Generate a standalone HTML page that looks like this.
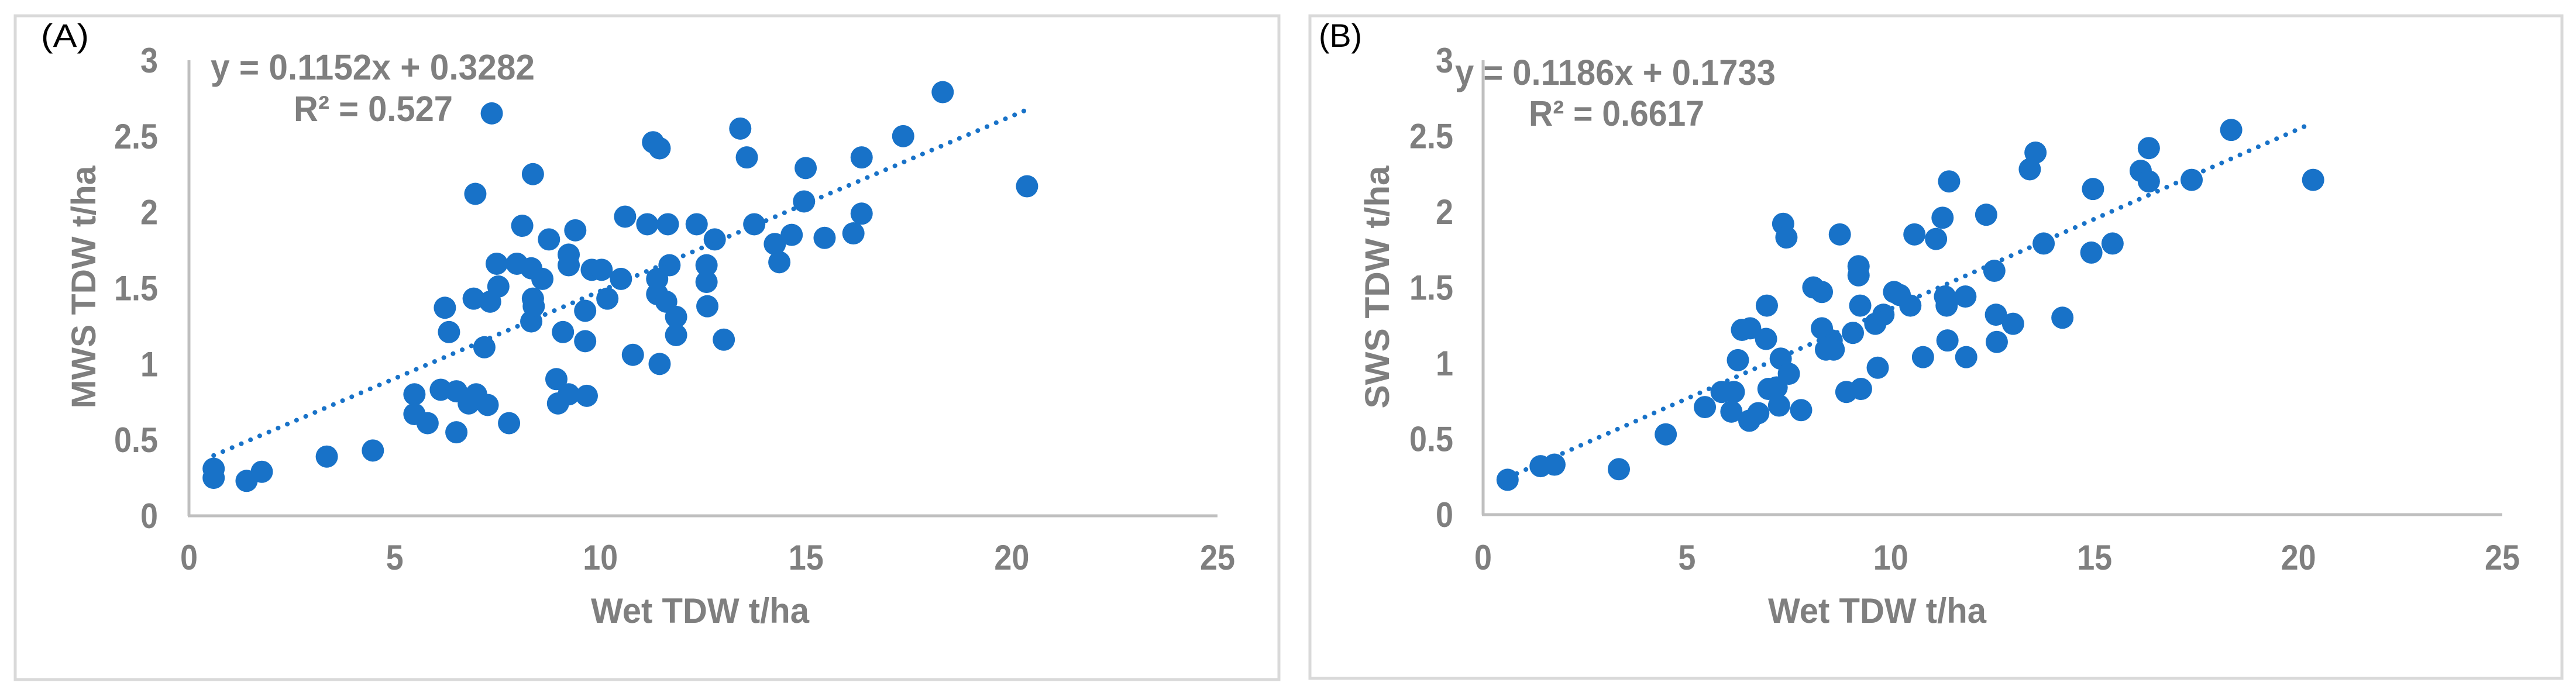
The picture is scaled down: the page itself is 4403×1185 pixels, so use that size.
<!DOCTYPE html>
<html><head><meta charset="utf-8"><style>
html,body{margin:0;padding:0;background:#fff;}
svg{display:block;font-family:"Liberation Sans",Arial,sans-serif;}
</style></head><body>
<svg id="chart" width="4403" height="1185" viewBox="0 0 4403 1185" xmlns="http://www.w3.org/2000/svg">
<rect x="0" y="0" width="4403" height="1185" fill="#fff"/>
</svg>
<script>
// ----- data: panel A (MWS vs Wet) -----
const aWet=[0.6,0.6,1.4,1.77,3.35,4.47,5.48,5.48,5.8,6.12,6.5,6.5,6.8,6.98,7.26,7.78,6.22,6.32,6.96,6.92,7.32,7.52,7.48,7.18,7.36,7.97,8.1,8.32,8.36,8.38,8.32,8.36,8.59,8.75,8.93,8.97,9.09,9.23,9.23,9.23,9.39,9.63,9.63,9.67,9.79,10.03,10.17,10.5,10.6,10.79,11.14,11.28,11.44,11.38,11.38,11.44,11.6,11.64,11.68,11.84,11.84,12.34,12.58,12.58,12.6,12.78,13.0,13.4,13.56,13.74,14.24,14.35,14.65,14.95,14.99,15.45,16.15,16.35,16.35,17.36,18.32,20.37];
const aMws=[0.31,0.25,0.23,0.29,0.39,0.43,0.8,0.67,0.61,0.83,0.55,0.82,0.74,0.8,0.73,0.61,1.37,1.21,2.12,1.43,1.41,1.51,1.66,1.11,2.65,1.66,1.91,1.63,1.43,1.38,1.28,2.25,1.56,1.82,0.9,0.74,1.21,0.8,1.72,1.65,1.88,1.35,1.15,0.79,1.62,1.62,1.43,1.56,1.97,1.06,1.92,2.46,2.42,1.56,1.46,1.0,1.41,1.92,1.65,1.31,1.19,1.92,1.65,1.54,1.38,1.82,1.16,2.55,2.36,1.92,1.79,1.67,1.85,2.07,2.29,1.83,1.86,1.99,2.36,2.5,2.79,2.17];
// ----- data: panel B (SWS vs Wet) -----
const bWet=[0.6,1.41,1.75,3.33,4.48,5.44,5.85,6.09,6.15,6.25,6.35,6.55,6.53,6.75,6.94,6.96,7.0,7.2,7.26,7.3,7.5,7.36,7.44,7.8,8.1,8.31,8.31,8.41,8.6,8.55,8.75,8.91,9.07,9.21,9.21,9.25,9.27,9.62,9.68,9.82,10.08,10.22,10.48,10.58,10.79,11.11,11.27,11.33,11.37,11.43,11.39,11.83,11.85,12.34,12.54,12.58,12.6,13.0,13.41,13.55,13.75,14.21,14.96,14.92,15.44,16.13,16.33,16.33,17.38,18.35,20.36];
const bSws=[0.23,0.32,0.33,0.3,0.53,0.71,0.81,0.68,0.81,1.02,1.22,1.23,0.62,0.67,1.16,1.38,0.83,0.84,0.72,1.03,0.93,1.92,1.83,0.69,1.5,1.47,1.23,1.09,1.09,1.15,1.85,0.81,1.2,1.64,1.58,1.38,0.83,1.26,0.97,1.32,1.47,1.45,1.38,1.85,1.04,1.82,1.96,1.44,1.38,2.2,1.15,1.44,1.04,1.98,1.61,1.32,1.14,1.26,2.28,2.39,1.79,1.3,2.15,1.73,1.79,2.27,2.42,2.2,2.21,2.54,2.21];
const xTicks=[0,5,10,15,20,25];
const yTicks=[0,0.5,1,1.5,2,2.5,3];
const yTickLabels=["0","0.5","1","1.5","2","2.5","3"];
const trendA=[0.1152,0.3282], trendB=[0.1186,0.1733];
const trendRange=[0.6,20.3];

const NS="http://www.w3.org/2000/svg";
const svg=document.getElementById('chart');
function el(tag,attrs,parent,text){const e=document.createElementNS(NS,tag);for(const k in attrs)e.setAttribute(k,attrs[k]);if(text!==undefined)e.textContent=text;(parent||svg).appendChild(e);return e;}
const GRAY="#7f7f7f", BLUE="#1872c8";

function panel(cfg){
  const g=el('g',{});
  
  
  const X=v=>cfg.x0+(v/25)*(cfg.x25-cfg.x0);
  const Y=v=>cfg.y0-(v/3)*(cfg.y0-cfg.y3);
  const border=el('rect',{x:cfg.bx,y:cfg.by,width:cfg.bw,height:cfg.bh,fill:'none',stroke:'#d9d9d9','stroke-width':5},g);
  
  
  const lab=el('text',{x:cfg.lx,y:80,'font-size':56,fill:'#000',textLength:cfg.lw,lengthAdjust:'spacingAndGlyphs'},g,cfg.label);
  
  
  const ya=el('line',{x1:X(0),y1:Y(3),x2:X(0),y2:Y(0),stroke:'#bfbfbf','stroke-width':5},g);
  
  
  const xa=el('line',{x1:X(0)-2,y1:Y(0),x2:X(25),y2:Y(0),stroke:'#bfbfbf','stroke-width':5},g);
  
  
  yTicks.forEach((v,i)=>{
    const s=yTickLabels[i];
    const t=el('text',{x:cfg.ytx,y:Y(v)+21,'font-size':60,'font-weight':'bold',fill:GRAY,'text-anchor':'end',textLength:s.length===1?30:75,lengthAdjust:'spacingAndGlyphs'},g,s);
    
    
  });
  xTicks.forEach(v=>{
    const s=String(v);
    const t=el('text',{x:X(v),y:974,'font-size':60,'font-weight':'bold',fill:GRAY,'text-anchor':'middle',textLength:s.length===1?30:60,lengthAdjust:'spacingAndGlyphs'},g,s);
    
    
  });
  const xt=el('text',{x:cfg.xtx,y:1065,'font-size':60,'font-weight':'bold',fill:GRAY,textLength:373,lengthAdjust:'spacingAndGlyphs'},g,'Wet TDW t/ha');
  
  
  const yt=el('text',{x:0,y:0,'font-size':58,'font-weight':'bold',fill:GRAY,'text-anchor':'middle',textLength:415,lengthAdjust:'spacingAndGlyphs',transform:`translate(${cfg.ytbx},491) rotate(-90)`},g,cfg.ytitle);
  
  
  cfg.xs.forEach((xv,i)=>{
    const c=el('circle',{cx:X(xv),cy:Y(cfg.ys[i]),r:19,fill:BLUE},g);
    
    
  });
  const tr=el('line',{x1:X(trendRange[0]),y1:Y(cfg.tr[0]*trendRange[0]+cfg.tr[1]),x2:X(trendRange[1]),y2:Y(cfg.tr[0]*trendRange[1]+cfg.tr[1]),stroke:BLUE,'stroke-width':8,'stroke-dasharray':'0.1 17','stroke-linecap':'round'},g);
  
  
  const eq=el('text',{x:cfg.ex,y:cfg.ey,'font-size':61,'font-weight':'bold',fill:GRAY,textLength:cfg.ew,lengthAdjust:'spacingAndGlyphs'},g,cfg.eq);
  
  
  const r2=el('text',{x:cfg.rx,y:cfg.ry,'font-size':61,'font-weight':'bold',fill:GRAY,textLength:cfg.rw,lengthAdjust:'spacingAndGlyphs'},g,cfg.r2);
  
  
}
panel({id:'a',label:'(A)',lx:70,lw:82,bx:26,by:27,bw:2160,bh:1135,x0:323,x25:2081,y0:882,y3:103,ytx:270,xtx:1010,ytbx:163,ytitle:'MWS TDW t/ha',xs:aWet,ys:aMws,tr:trendA,eq:'y = 0.1152x + 0.3282',ex:360,ey:136,ew:554,r2:'R² = 0.527',rx:502,ry:207,rw:272});
panel({id:'b',label:'(B)',lx:2254,lw:74,bx:2239,by:27,bw:2140,bh:1133,x0:2535,x25:4277,y0:880,y3:103,ytx:2484,xtx:3022,ytbx:2374,ytitle:'SWS TDW t/ha',xs:bWet,ys:bSws,tr:trendB,eq:'y = 0.1186x + 0.1733',ex:2487,ey:145,ew:548,r2:'R² = 0.6617',rx:2613,ry:215,rw:300});
</script>
</body></html>
